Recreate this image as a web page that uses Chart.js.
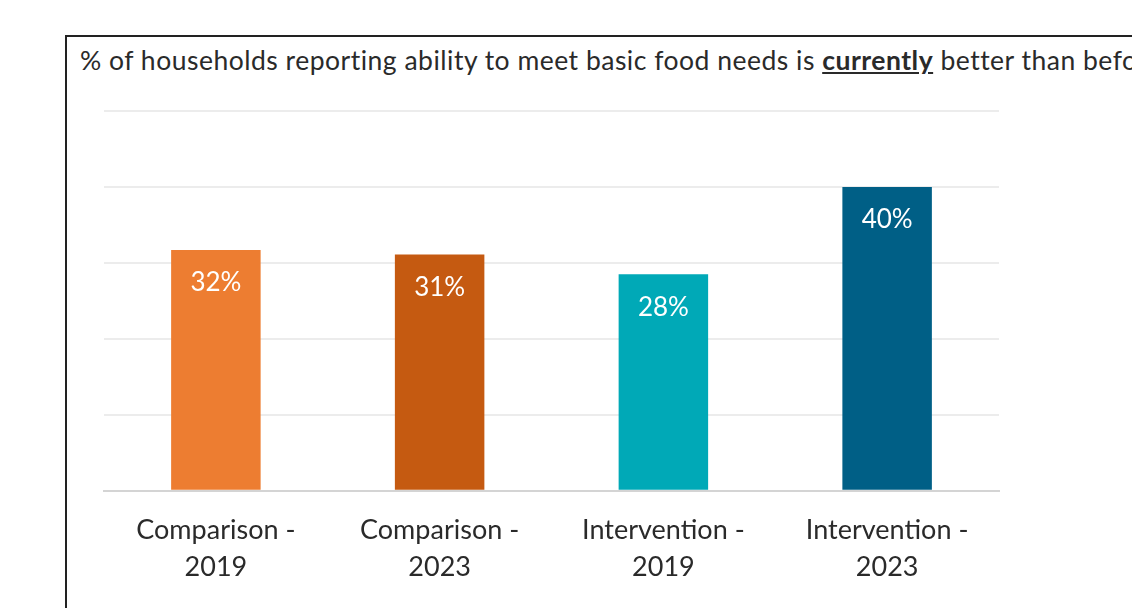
<!DOCTYPE html>
<html>
<head>
<meta charset="utf-8">
<script src="https://cdn.jsdelivr.net/npm/chart.js@4.4.1/dist/chart.umd.min.js"></script>
<style>
    html, body { margin: 0; padding: 0; background: #fff; }
    body { width: 1132px; height: 608px; position: relative; overflow: hidden; }
    #frame {
        position: absolute; left: 65px; top: 35px; width: 1100px; height: 600px;
        border-left: 2px solid #222; border-top: 2px solid #222;
    }
    #titulo {
        position: absolute; left: 80px; top: 44px; width: 1052px; overflow: hidden;
        white-space: nowrap; font-family: Lato, sans-serif; font-size: 26.5px; color: #2a2a2a;
        letter-spacing: 0.5px;
    }
    #titulo b { text-decoration: underline; }
    #wrap { position: absolute; left: 0; top: 0; width: 1132px; height: 608px; }
</style>
</head>
<body>
<div id="frame"></div>
<div id="titulo">% of households reporting ability to meet basic food needs is <b>currently</b> better than before</div>
<div id="wrap"><canvas id="grafico"></canvas></div>
<script>
// dados do gráfico
const categorias = [['Comparison -', '2019'], ['Comparison -', '2023'], ['Intervention -', '2019'], ['Intervention -', '2023']];
const valores = [31.7, 31.1, 28.5, 40.0];
const rotulos = ['32%', '31%', '28%', '40%'];
const cores = ['#ED7D31', '#C55A11', '#00A9B7', '#005F86'];

// rótulos brancos dentro das barras
const rotulosBarras = {
    id: 'rotulosBarras',
    afterDatasetsDraw(chart) {
        const ctx = chart.ctx;
        const meta = chart.getDatasetMeta(0);
        ctx.save();
        ctx.fillStyle = '#fff';
        ctx.font = '26px Lato, sans-serif';
        ctx.textAlign = 'center';
        ctx.textBaseline = 'middle';
        meta.data.forEach((bar, i) => {
            ctx.fillText(rotulos[i], bar.x, bar.y + 33);
        });
        ctx.restore();
    }
};

const ctx = document.getElementById('grafico').getContext('2d');
new Chart(ctx, {
    type: 'bar',
    data: {
        labels: categorias,
        datasets: [{
            data: valores,
            backgroundColor: cores,
            barPercentage: 0.4,
            categoryPercentage: 1.0
        }]
    },
    options: {
        responsive: true,
        maintainAspectRatio: false,
        animation: false,
        layout: { padding: { left: 104, right: 133, top: 111, bottom: 1 } },
        plugins: {
            legend: { display: false },
            tooltip: { enabled: false }
        },
        scales: {
            x: {
                grid: { display: false, drawTicks: false },
                border: { display: true, color: '#d4d4d4', width: 2 },
                ticks: {
                    color: '#2a2a2a',
                    padding: 22,
                    font: { family: 'Lato, sans-serif', size: 27, lineHeight: 1.34 },
                    maxRotation: 0
                }
            },
            y: {
                min: 0,
                max: 50,
                ticks: { display: false, stepSize: 10 },
                grid: { color: '#ececec', lineWidth: 2, drawTicks: false },
                border: { display: false }
            }
        }
    },
    plugins: [rotulosBarras]
});
</script>
</body>
</html>
